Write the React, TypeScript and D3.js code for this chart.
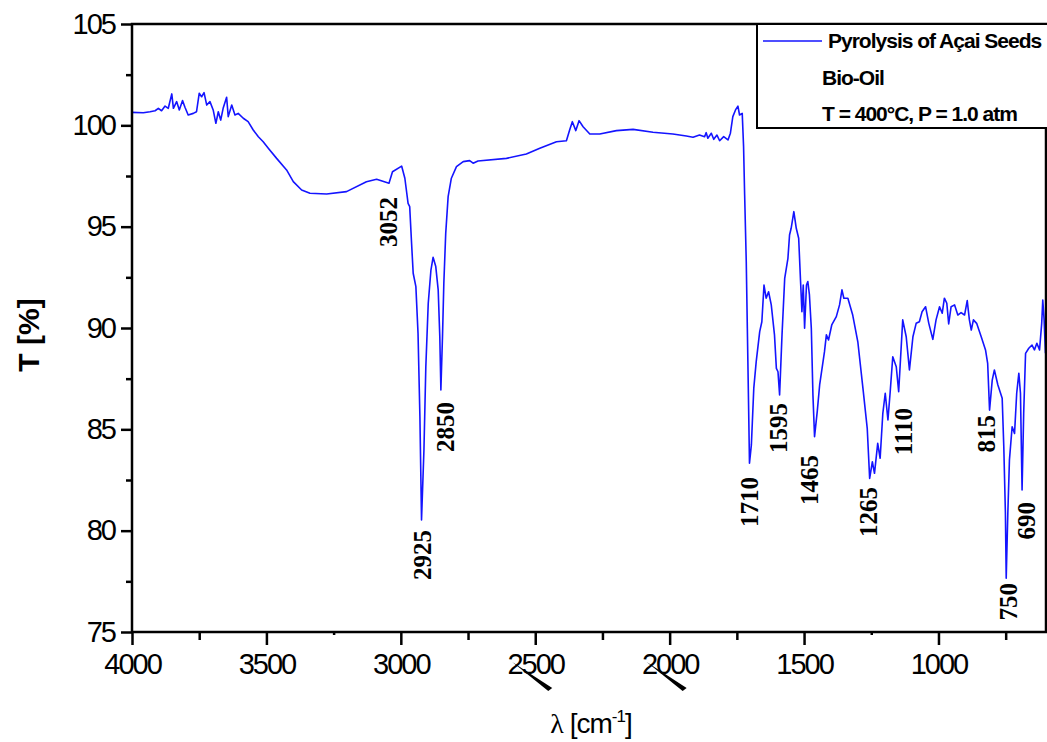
import React, { useEffect, useRef } from 'react';
import * as d3 from 'd3';

// FTIR spectrum (wavenumber in cm-1, transmittance in %)
const wavenumber = [
  4000, 3958, 3933, 3914, 3902, 3890, 3877, 3865, 3852, 3846,
  3834, 3824, 3812, 3803, 3791, 3772, 3760, 3750, 3741, 3732,
  3722, 3710, 3698, 3688, 3679, 3670, 3661, 3648, 3642, 3629,
  3617, 3605, 3586, 3568, 3549, 3530, 3512, 3493, 3462, 3425,
  3400, 3369, 3338, 3276, 3202, 3128, 3090, 3044, 3031, 2997,
  2985, 2973, 2967, 2960, 2954, 2944, 2936, 2929, 2923, 2914,
  2907, 2898, 2888, 2880, 2870, 2861, 2855, 2851, 2845, 2840,
  2833, 2824, 2812, 2793, 2768, 2744, 2731, 2713, 2607, 2533,
  2483, 2421, 2384, 2372, 2362, 2349, 2337, 2322, 2297, 2260,
  2198, 2136, 2062, 1988, 1938, 1913, 1889, 1870, 1864, 1858,
  1845, 1836, 1824, 1814, 1799, 1783, 1774, 1765, 1755, 1746,
  1740, 1730, 1725, 1721, 1715, 1711, 1706, 1703, 1696, 1687,
  1678, 1665, 1657, 1649, 1641, 1632, 1622, 1610, 1603, 1597,
  1591, 1582, 1572, 1560, 1554, 1548, 1538, 1529, 1520, 1513,
  1508, 1503, 1498, 1491, 1486, 1480, 1473, 1467, 1461, 1451,
  1442, 1424, 1417, 1409, 1397, 1380, 1368, 1359, 1352, 1337,
  1319, 1300, 1281, 1265, 1256, 1246, 1238, 1226, 1217, 1207,
  1198, 1188, 1180, 1170, 1157, 1148, 1133, 1120, 1108, 1095,
  1083, 1071, 1061, 1048, 1036, 1021, 1009, 996, 986, 978,
  969, 962, 953, 940, 928, 916, 903, 893, 885, 878,
  870, 858, 841, 825, 817, 810, 800, 792, 779, 763,
  757, 751, 748, 742, 736, 726, 717, 709, 701, 695,
  689, 683, 676, 664, 652, 643, 634, 624, 616, 612,
  607, 602,
];

const transmittance = [
  100.64, 100.62, 100.67, 100.72, 100.84, 100.72, 100.95, 100.84, 101.55, 100.84,
  101.17, 100.76, 101.22, 100.89, 100.51, 100.59, 100.67, 101.58, 101.41, 101.61,
  101.0, 101.17, 100.76, 100.1, 100.67, 100.26, 100.84, 101.38, 100.43, 101.0,
  100.51, 100.59, 100.35, 100.18, 99.77, 99.44, 99.19, 98.87, 98.37, 97.8,
  97.22, 96.81, 96.65, 96.61, 96.73, 97.22, 97.34, 97.14, 97.71, 97.99,
  97.39, 96.15, 95.99, 94.18, 92.7, 92.04, 89.74, 85.62, 80.53, 83.98,
  88.09, 91.22, 92.86, 93.49, 93.03, 91.88, 89.57, 86.94, 89.57, 92.21,
  94.67, 96.48, 97.39, 97.96, 98.21, 98.26, 98.13, 98.24, 98.37, 98.59,
  98.87, 99.19, 99.24, 99.77, 100.18, 99.74, 100.23, 99.93, 99.57, 99.57,
  99.74, 99.8, 99.66, 99.57, 99.47, 99.41, 99.52, 99.44, 99.64, 99.36,
  99.61, 99.31, 99.52, 99.24, 99.44, 99.28, 99.61, 100.43, 100.76, 100.95,
  100.51, 100.59, 98.95, 96.56, 93.27, 89.99, 85.87, 83.33, 84.23, 87.03,
  88.34, 89.82, 90.31, 92.12, 91.47, 91.79, 91.14, 89.66, 88.01, 87.84,
  86.7, 89.66, 92.45, 93.44, 94.59, 94.92, 95.74, 94.92, 94.43, 92.29,
  90.8, 92.12, 89.99, 92.12, 92.29, 91.63, 89.99, 86.7, 84.64, 85.87,
  87.19, 88.83, 89.66, 89.41, 90.15, 90.56, 91.14, 91.88, 91.47, 91.47,
  90.64, 89.32, 87.03, 85.05, 82.58, 83.4, 82.83, 84.31, 83.57, 85.79,
  86.78, 85.46, 86.78, 88.58, 88.09, 86.86, 90.4, 89.57, 87.93, 89.57,
  90.23, 90.31, 90.8, 91.05, 90.23, 89.44, 90.4, 91.05, 90.73, 91.47,
  91.22, 90.2, 91.05, 91.14, 90.64, 90.76, 90.64, 91.35, 90.4, 89.9,
  90.4, 90.23, 89.57, 88.92, 88.26, 85.95, 87.43, 87.93, 87.19, 86.53,
  84.14, 80.86, 77.65, 80.86, 83.49, 85.13, 84.8, 86.78, 87.77, 86.78,
  82.01, 85.79, 88.75, 89.0, 89.16, 88.92, 89.25, 88.92, 90.23, 91.38,
  90.4, 88.75,
];

// peak annotations: text, wavenumber of label centre, transmittance at label top
const peakLabels = ['3052', '2925', '2850', '1710', '1595', '1465', '1265', '1110', '815', '690', '750'];
const peakLabelWn = [3048, 2922, 2836, 1703, 1597, 1480, 1262, 1132, 823, 675, 742];
const peakLabelT = [96.46, 80.03, 86.35, 82.65, 86.3, 83.73, 82.16, 86.05, 85.71, 81.42, 77.42];

const xMajorTicks = [4000, 3500, 3000, 2500, 2000, 1500, 1000];
const xMinorTicks = [3750, 2750, 2250, 1750, 750];
const xStubTicks = [3250, 1250];
const yMajorTicks = [75, 80, 85, 90, 95, 100, 105];
const yMinorTicks = [77.5, 82.5, 87.5, 92.5, 97.5, 102.5];

const legendTitle = 'Pyrolysis of Açai Seeds';
const legendNotes = ['Bio-Oil', 'T = 400°C, P = 1.0 atm'];

const width = 1047;
const height = 742;
const plot = { left: 132, right: 1046, top: 24, bottom: 632 };
const sans = "'Liberation Sans', Arial, sans-serif";
const serif = "'Liberation Serif', 'Times New Roman', serif";
const blue = '#1414ff';

export default function App() {
  const ref = useRef<SVGSVGElement>(null);

  useEffect(() => {
    const svg = d3.select(ref.current);
    svg.selectAll('*').remove();

    const x = d3.scaleLinear().domain([4000, 600]).range([plot.left, plot.right]);
    const y = d3.scaleLinear().domain([75, 105]).range([plot.bottom, plot.top]);

    // spectrum
    const pts = d3.zip(wavenumber, transmittance) as [number, number][];
    const line = d3.line<[number, number]>()
      .x(d => x(d[0]))
      .y(d => y(d[1]));
    svg.append('path')
      .datum(pts)
      .attr('d', line)
      .attr('fill', 'none')
      .attr('stroke', blue)
      .attr('stroke-width', 1.6)
      .attr('stroke-linejoin', 'round');

    // x axis
    const styleAxis = (g: any) => {
      g.select('.domain').remove();
      g.selectAll('line').attr('stroke', '#000').attr('stroke-width', 2.5);
      g.selectAll('text')
        .attr('fill', '#000')
        .style('font-family', sans)
        .style('font-size', '29px')
        .style('letter-spacing', '-2px');
    };

    svg.append('g')
      .attr('transform', `translate(0,${plot.bottom})`)
      .call(d3.axisBottom(x).tickValues(xMajorTicks).tickSize(13).tickPadding(8).tickFormat(d3.format('d')))
      .call(styleAxis);
    svg.append('g')
      .attr('transform', `translate(0,${plot.bottom})`)
      .call(d3.axisBottom(x).tickValues(xMinorTicks).tickSize(8).tickFormat(() => ''))
      .call(styleAxis);
    svg.append('g')
      .attr('transform', `translate(0,${plot.bottom})`)
      .call(d3.axisBottom(x).tickValues(xStubTicks).tickSize(3).tickFormat(() => ''))
      .call(styleAxis);

    // y axis
    svg.append('g')
      .attr('transform', `translate(${plot.left},0)`)
      .call(d3.axisLeft(y).tickValues(yMajorTicks).tickSize(11).tickPadding(6).tickFormat(d3.format('d')))
      .call(styleAxis);
    svg.append('g')
      .attr('transform', `translate(${plot.left},0)`)
      .call(d3.axisLeft(y).tickValues(yMinorTicks).tickSize(6).tickFormat(() => ''))
      .call(styleAxis);

    // frame
    svg.append('rect')
      .attr('x', plot.left)
      .attr('y', plot.top)
      .attr('width', plot.right - plot.left)
      .attr('height', plot.bottom - plot.top)
      .attr('fill', 'none')
      .attr('stroke', '#000')
      .attr('stroke-width', 2.5);

    // stray pen strokes over the 2500 and 2000 labels
    [2500, 2000].forEach(v => {
      const cx = x(v);
      svg.append('polygon')
        .attr('points', `${cx - 23},${plot.bottom + 30} ${cx + 17},${plot.bottom + 56} ${cx + 13},${plot.bottom + 59}`)
        .attr('fill', '#000');
    });

    // peak labels
    svg.append('g')
      .selectAll('text')
      .data(peakLabels)
      .join('text')
      .attr('transform', (d, i) => `translate(${x(peakLabelWn[i])},${y(peakLabelT[i])}) rotate(-90)`)
      .attr('dy', '0.35em')
      .attr('text-anchor', 'end')
      .style('font-family', serif)
      .style('font-weight', 'bold')
      .style('font-size', '25px')
      .attr('fill', '#000')
      .text(d => d);

    // axis titles
    svg.append('text')
      .attr('transform', `translate(28,${(plot.top + plot.bottom) / 2 + 7}) rotate(-90)`)
      .attr('dy', '0.35em')
      .attr('text-anchor', 'middle')
      .style('font-family', sans)
      .style('font-weight', 'bold')
      .style('font-size', '30px')
      .text('T [%]');

    const xt = svg.append('text')
      .attr('x', 591)
      .attr('y', 733)
      .attr('text-anchor', 'middle')
      .style('font-family', sans)
      .style('font-size', '28px')
      .style('letter-spacing', '-1px');
    xt.append('tspan').style('font-family', serif).text('λ');
    xt.append('tspan').text(' [cm');
    xt.append('tspan').attr('dy', -11).style('font-size', '17px').text('-1');
    xt.append('tspan').attr('dy', 11).text(']');

    // legend
    const lg = svg.append('g');
    lg.append('rect')
      .attr('x', 757)
      .attr('y', plot.top)
      .attr('width', 300)
      .attr('height', 104)
      .attr('fill', '#fff')
      .attr('stroke', '#000')
      .attr('stroke-width', 2);
    lg.append('line')
      .attr('x1', 763).attr('x2', 822)
      .attr('y1', 41).attr('y2', 41)
      .attr('stroke', blue)
      .attr('stroke-width', 1.6);
    lg.append('text')
      .attr('x', 828)
      .attr('y', 48)
      .style('font-family', sans)
      .style('font-weight', 'bold')
      .style('font-size', '21px')
      .style('letter-spacing', '-1px')
      .text(legendTitle);
    lg.selectAll('text.note')
      .data(legendNotes)
      .join('text')
      .attr('class', 'note')
      .attr('x', 822)
      .attr('y', (d, i) => 85 + i * 36)
      .style('font-family', sans)
      .style('font-weight', 'bold')
      .style('font-size', '21px')
      .style('letter-spacing', '-1px')
      .text(d => d);
  }, []);

  return (
    <svg
      ref={ref}
      width={width}
      height={height}
      style={{ position: 'absolute', left: 0, top: 0, background: '#fff' }}
    />
  );
}
